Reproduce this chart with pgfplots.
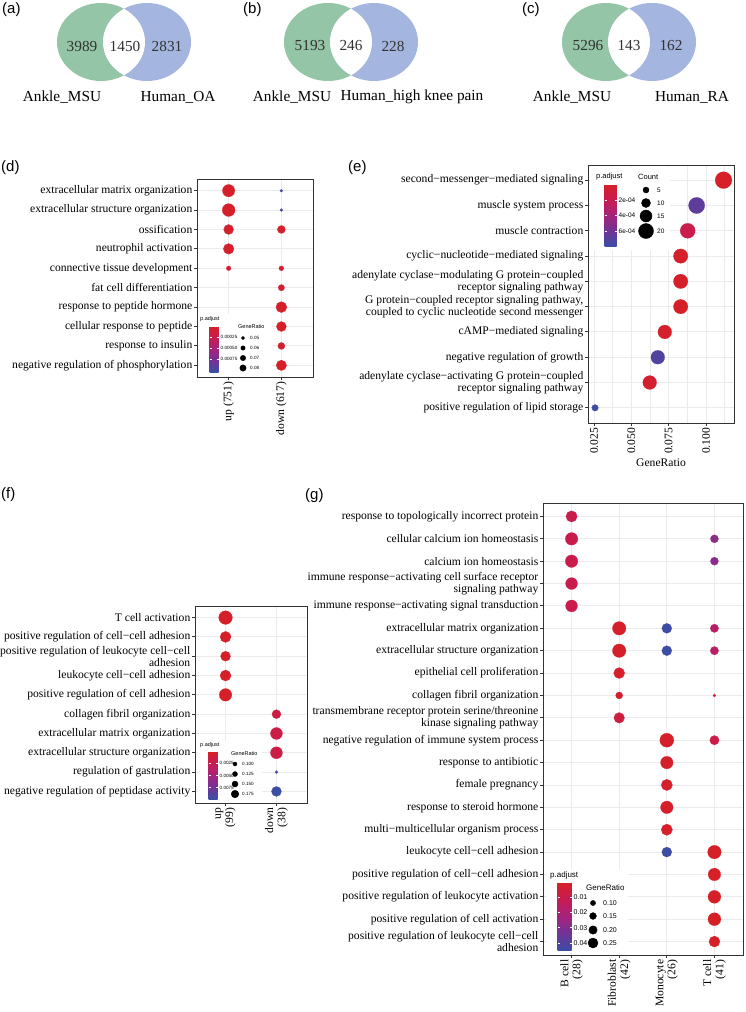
\documentclass[border=0pt]{standalone}
\usepackage{fontspec}
\setmainfont{Liberation Serif}
\setsansfont{Liberation Sans}
\usepackage{pgfplots}
\usepackage{pgfplotstable}
\pgfplotsset{compat=1.18}

\definecolor{gridc}{gray}{0.92}
\definecolor{framec}{gray}{0.2}
\definecolor{venngreen}{RGB}{148,197,166}
\definecolor{vennblue}{RGB}{164,182,223}

\newcommand\lab{\fontsize{11.6}{12.2}\selectfont}
\newcommand\venn{\fontsize{15.3}{18}\selectfont}
\newcommand\panel{\sffamily\fontsize{15}{18}\selectfont}
\newcommand\fa{\sffamily\fontsize{4.6}{5}\selectfont}
\newcommand\fb{\sffamily\fontsize{5.5}{6}\selectfont}

\pgfplotsset{
  colormap={padj}{rgb255=(214,32,40) rgb255=(200,28,80) rgb255=(165,35,125) rgb255=(115,50,150) rgb255=(58,78,165)},
  dotplot/.style={
    scale only axis, anchor=north west,
    axis line style={framec, line width=0.9pt},
    grid=major, major grid style={gridc, line width=0.9pt},
    tick align=outside, tick pos=left, major tick length=3pt,
    tick style={framec, line width=0.9pt},
    y dir=reverse, ymin=0.4,
    yticklabel style={font=\lab, align=right, inner sep=1.5pt},
    xticklabel style={font=\lab, rotate=90, anchor=east, align=right, inner sep=1.5pt},
    colormap name=padj,
  },
  dots/.style={scatter, only marks, mark=*, point meta=explicit,
    mark options={line width=0.2pt},
    scatter/use mapped color={draw=mapped color, fill=mapped color},
    scatter/@pre marker code/.append style={/tikz/mark size=\rad}},
  legbox/.style={scale only axis, anchor=north west, hide axis, y dir=reverse, clip=false},
  cbar/.style={at={(parent axis.north west)}, anchor=north west, y dir=reverse,
    axis line style={draw=none}, tick align=inside, major tick length=2pt,
    tick style={white, line width=0.5pt}, ytick pos=both, yticklabel pos=right,
    scaled y ticks=false, yticklabel style={inner sep=1pt, xshift=1pt}},
}

% panel (d): x = group, y = row from top, p = p.adjust, gr = GeneRatio
\pgfplotstableread{
x y p gr
1 1 0.00002 0.084
1 2 0.00002 0.086
1 3 0.00004 0.074
1 4 0.00004 0.077
1 5 0.00008 0.052
2 1 0.00100 0.045
2 2 0.00100 0.045
2 3 0.00003 0.066
2 5 0.00006 0.053
2 6 0.00005 0.059
2 7 0.00001 0.078
2 8 0.00001 0.074
2 9 0.00004 0.062
2 10 0.00001 0.076
}\tabd

% panel (e): x = GeneRatio, cnt = Count
\pgfplotstableread{
x y p cnt
0.1117 1 0.000005 23
0.0937 2 0.00066 22
0.0877 3 0.00017 20
0.0830 4 0.00001 19
0.0830 5 0.00001 19
0.0830 6 0.00001 19
0.0724 7 0.00002 18
0.0677 8 0.00071 18
0.0623 9 0.00003 18
0.0257 10 0.00078 6
}\tabe

% panel (f)
\pgfplotstableread{
x y p gr
1 1 0.00005 0.186
1 2 0.00005 0.160
1 3 0.00005 0.150
1 4 0.00005 0.160
1 5 0.00005 0.176
2 6 0.0017 0.140
2 7 0.0017 0.170
2 8 0.0017 0.170
2 9 0.0095 0.080
2 10 0.0097 0.150
}\tabf

% panel (g)
\pgfplotstableread{
x y p gr
1 1 0.010 0.29
1 2 0.010 0.33
4 2 0.028 0.19
1 3 0.010 0.33
4 3 0.028 0.19
1 4 0.010 0.31
1 5 0.010 0.31
2 6 0.0005 0.36
3 6 0.044 0.25
4 6 0.016 0.20
2 7 0.0005 0.36
3 7 0.044 0.25
4 7 0.016 0.20
2 8 0.001 0.28
2 9 0.002 0.16
4 9 0.002 0.03
2 10 0.0065 0.27
3 11 0.0008 0.375
4 11 0.009 0.23
3 12 0.001 0.33
3 13 0.001 0.29
3 14 0.001 0.33
3 15 0.001 0.29
3 16 0.044 0.25
4 16 0.0001 0.36
4 17 0.0001 0.33
4 18 0.0001 0.34
4 19 0.0001 0.34
4 20 0.0001 0.28
}\tabg

\begin{document}
\begin{tikzpicture}
\path[use as bounding box] (0pt,0pt) rectangle (745pt,-1012pt);

% ---------- Venn diagrams (a)-(c)
\begin{axis}[legbox, at={(0pt,0pt)}, width=745pt, height=110pt,
  xmin=0, xmax=745, ymin=0, ymax=110]
  % (a)
  \fill[venngreen] (axis cs:101,42) ellipse [x radius=44pt, y radius=39pt];
  \fill[vennblue] (axis cs:147,42) ellipse [x radius=44pt, y radius=39pt];
  \begin{scope}
    \clip (axis cs:101,42) ellipse [x radius=44pt, y radius=39pt];
    \fill[white] (axis cs:147,42) ellipse [x radius=44pt, y radius=39pt];
  \end{scope}
  \node[font=\venn, text=black!80] at (axis cs:82,46) {3989};
  \node[font=\venn, text=black!80] at (axis cs:125,46) {1450};
  \node[font=\venn, text=black!80] at (axis cs:167,46) {2831};
  \node[font=\venn] at (axis cs:62,97) {Ankle\_MSU};
  \node[font=\venn] at (axis cs:178,97) {Human\_OA};
  % (b)
  \fill[venngreen] (axis cs:328,42) ellipse [x radius=44pt, y radius=39pt];
  \fill[vennblue] (axis cs:374,42) ellipse [x radius=44pt, y radius=39pt];
  \begin{scope}
    \clip (axis cs:328,42) ellipse [x radius=44pt, y radius=39pt];
    \fill[white] (axis cs:374,42) ellipse [x radius=44pt, y radius=39pt];
  \end{scope}
  \node[font=\venn, text=black!80] at (axis cs:310,46) {5193};
  \node[font=\venn, text=black!80] at (axis cs:351,46) {246};
  \node[font=\venn, text=black!80] at (axis cs:393,46) {228};
  \node[font=\venn] at (axis cs:292,97) {Ankle\_MSU};
  \node[font=\venn] at (axis cs:412,97) {Human\_high knee pain};
  % (c)
  \fill[venngreen] (axis cs:606,42) ellipse [x radius=44pt, y radius=39pt];
  \fill[vennblue] (axis cs:652,42) ellipse [x radius=44pt, y radius=39pt];
  \begin{scope}
    \clip (axis cs:606,42) ellipse [x radius=44pt, y radius=39pt];
    \fill[white] (axis cs:652,42) ellipse [x radius=44pt, y radius=39pt];
  \end{scope}
  \node[font=\venn, text=black!80] at (axis cs:588,46) {5296};
  \node[font=\venn, text=black!80] at (axis cs:629,46) {143};
  \node[font=\venn, text=black!80] at (axis cs:671,46) {162};
  \node[font=\venn] at (axis cs:572,97) {Ankle\_MSU};
  \node[font=\venn] at (axis cs:692,97) {Human\_RA};
\end{axis}
\node[anchor=north west, font=\panel, inner sep=0] at (2pt,-2pt) {(a)};
\node[anchor=north west, font=\panel, inner sep=0] at (243pt,-2pt) {(b)};
\node[anchor=north west, font=\panel, inner sep=0] at (522pt,-2pt) {(c)};
\node[anchor=north west, font=\panel, inner sep=0] at (1pt,-160pt) {(d)};
\node[anchor=north west, font=\panel, inner sep=0] at (348pt,-160pt) {(e)};
\node[anchor=north west, font=\panel, inner sep=0] at (1pt,-487pt) {(f)};
\node[anchor=north west, font=\panel, inner sep=0] at (305pt,-488pt) {(g)};

% ---------- (d)
\begin{axis}[dotplot, at={(197pt,-179pt)}, width=116pt, height=198pt,
  xmin=0.4, xmax=2.6, ymax=10.6,
  xtick={1,2}, xticklabels={up (751),down (617)},
  ytick={1,...,10},
  yticklabels={{extracellular matrix organization},{extracellular structure organization},{ossification},{neutrophil activation},{connective tissue development},{fat cell differentiation},{response to peptide hormone},{cellular response to peptide},{response to insulin},{negative regulation of phosphorylation}},
  point meta min=0, point meta max=0.00104]
\addplot[dots, visualization depends on={1.5+120*(\thisrow{gr}-0.045) \as \rad}]
  table[x=x, y=y, meta=p] {\tabd};
\end{axis}
\begin{axis}[legbox, at={(199pt,-314pt)}, width=73pt, height=62pt,
  xmin=0, xmax=73, ymin=0, ymax=62,
  colormap name=padj, point meta min=0, point meta max=0.00104,
  colorbar, colorbar style={cbar, xshift=2pt, yshift=-12pt, width=9pt, height=46pt,
    ytick={0.00025,0.0005,0.00075}, yticklabels={0.00025,0.00050,0.00075},
    yticklabel style={font=\fa}}]
  \fill[white] (axis cs:0,0) rectangle (axis cs:73,62);
  \node[anchor=west, inner sep=0, font=\fb] at (axis cs:1,5) {p.adjust};
  \node[anchor=west, inner sep=0, font=\fb] at (axis cs:39,13) {GeneRatio};
  \addplot[only marks, mark=*, black, mark size=1.7pt] coordinates {(44,24)};
  \addplot[only marks, mark=*, black, mark size=2.2pt] coordinates {(44,34)};
  \addplot[only marks, mark=*, black, mark size=2.7pt] coordinates {(44,44)};
  \addplot[only marks, mark=*, black, mark size=3.2pt] coordinates {(44,54)};
  \node[anchor=west, inner sep=0, font=\fa] at (axis cs:51,24) {0.05};
  \node[anchor=west, inner sep=0, font=\fa] at (axis cs:51,34) {0.06};
  \node[anchor=west, inner sep=0, font=\fa] at (axis cs:51,44) {0.07};
  \node[anchor=west, inner sep=0, font=\fa] at (axis cs:51,54) {0.08};
\end{axis}

% ---------- (e)
\begin{axis}[dotplot, at={(588pt,-165pt)}, width=146pt, height=258pt,
  xmin=0.021, xmax=0.1187, ymax=10.6, scaled x ticks=false,
  grid=both, minor grid style={gridc, line width=0.5pt}, minor tick length=0pt,
  xtick={0.025,0.05,0.075,0.1}, xticklabels={0.025,0.050,0.075,0.100},
  minor xtick={0.0375,0.0625,0.0875,0.1125},
  xlabel={GeneRatio}, xlabel style={font=\lab},
  ytick={1,...,10},
  yticklabels={{second−messenger−mediated signaling},{muscle system process},{muscle contraction},{cyclic−nucleotide−mediated signaling},{adenylate cyclase−modulating G protein−coupled\\receptor signaling pathway},{G protein−coupled receptor signaling pathway,\\coupled to cyclic nucleotide second messenger},{cAMP−mediated signaling},{negative regulation of growth},{adenylate cyclase−activating G protein−coupled\\receptor signaling pathway},{positive regulation of lipid storage}},
  point meta min=0, point meta max=0.000785]
\addplot[dots, visualization depends on={1.5+0.3*\thisrow{cnt} \as \rad}]
  table[x=x, y=y, meta=p] {\tabe};
\end{axis}
\begin{axis}[legbox, at={(590pt,-167pt)}, width=80pt, height=83pt,
  xmin=0, xmax=80, ymin=0, ymax=83,
  colormap name=padj, point meta min=0, point meta max=0.000785,
  colorbar, colorbar style={cbar, xshift=6pt, yshift=-17pt, width=12pt, height=62pt,
    ytick={0.0002,0.0004,0.0006}, yticklabels={2e-04,4e-04,6e-04},
    yticklabel style={font=\sffamily\fontsize{6.5}{7}\selectfont}}]
  \fill[white] (axis cs:0,0) rectangle (axis cs:80,83);
  \node[anchor=west, inner sep=0, font=\sffamily\fontsize{7.5}{8}\selectfont] at (axis cs:6,10) {p.adjust};
  \node[anchor=west, inner sep=0, font=\sffamily\fontsize{7.5}{8}\selectfont] at (axis cs:48,10) {Count};
  \addplot[only marks, mark=*, black, mark size=3pt] coordinates {(56,23)};
  \addplot[only marks, mark=*, black, mark size=4.5pt] coordinates {(56,36)};
  \addplot[only marks, mark=*, black, mark size=6pt] coordinates {(56,49)};
  \addplot[only marks, mark=*, black, mark size=7.5pt] coordinates {(56,64)};
  \node[anchor=west, inner sep=0, font=\sffamily\fontsize{6.5}{7}\selectfont] at (axis cs:67,23) {5};
  \node[anchor=west, inner sep=0, font=\sffamily\fontsize{6.5}{7}\selectfont] at (axis cs:67,36) {10};
  \node[anchor=west, inner sep=0, font=\sffamily\fontsize{6.5}{7}\selectfont] at (axis cs:67,49) {15};
  \node[anchor=west, inner sep=0, font=\sffamily\fontsize{6.5}{7}\selectfont] at (axis cs:67,64) {20};
\end{axis}

% ---------- (f)
\begin{axis}[dotplot, at={(195pt,-606pt)}, width=112pt, height=197pt,
  xmin=0.4, xmax=2.6, ymax=10.6,
  xtick={1,2}, xticklabels={{up\\(99)},{down\\(38)}},
  ytick={1,...,10},
  yticklabels={{T cell activation},{positive regulation of cell−cell adhesion},{positive regulation of leukocyte cell−cell\\adhesion},{leukocyte cell−cell adhesion},{positive regulation of cell adhesion},{collagen fibril organization},{extracellular matrix organization},{extracellular structure organization},{regulation of gastrulation},{negative regulation of peptidase activity}},
  point meta min=0, point meta max=0.0098]
\addplot[dots, visualization depends on={1.5+50*(\thisrow{gr}-0.08) \as \rad}]
  table[x=x, y=y, meta=p] {\tabf};
\end{axis}
\begin{axis}[legbox, at={(198pt,-741pt)}, width=64pt, height=61pt,
  xmin=0, xmax=64, ymin=0, ymax=61,
  colormap name=padj, point meta min=0, point meta max=0.0098,
  colorbar, colorbar style={cbar, xshift=2pt, yshift=-10pt, width=9pt, height=48pt,
    ytick={0.0025,0.005,0.0075}, yticklabels={0.0025,0.0050,0.0075},
    yticklabel style={font=\fa}}]
  \fill[white] (axis cs:0,0) rectangle (axis cs:64,61);
  \node[anchor=west, inner sep=0, font=\fb] at (axis cs:2,4) {p.adjust};
  \node[anchor=west, inner sep=0, font=\fb] at (axis cs:33,13) {GeneRatio};
  \addplot[only marks, mark=*, black, mark size=2pt] coordinates {(37,23)};
  \addplot[only marks, mark=*, black, mark size=2.5pt] coordinates {(37,33)};
  \addplot[only marks, mark=*, black, mark size=3pt] coordinates {(37,43)};
  \addplot[only marks, mark=*, black, mark size=3.8pt] coordinates {(37,53)};
  \node[anchor=west, inner sep=0, font=\fa] at (axis cs:44,23) {0.100};
  \node[anchor=west, inner sep=0, font=\fa] at (axis cs:44,33) {0.125};
  \node[anchor=west, inner sep=0, font=\fa] at (axis cs:44,43) {0.150};
  \node[anchor=west, inner sep=0, font=\fa] at (axis cs:44,53) {0.175};
\end{axis}

% ---------- (g)
\begin{axis}[dotplot, at={(543pt,-503pt)}, width=200pt, height=452pt,
  xmin=0.4, xmax=4.6, ymax=20.6,
  xtick={1,2,3,4}, xticklabels={{B cell\\(28)},{Fibroblast\\(42)},{Monocyte\\(26)},{T cell\\(41)}},
  ytick={1,...,20},
  yticklabels={{response to topologically incorrect protein},{cellular calcium ion homeostasis},{calcium ion homeostasis},{immune response−activating cell surface receptor\\signaling pathway},{immune response−activating signal transduction},{extracellular matrix organization},{extracellular structure organization},{epithelial cell proliferation},{collagen fibril organization},{transmembrane receptor protein serine/threonine\\kinase signaling pathway},{negative regulation of immune system process},{response to antibiotic},{female pregnancy},{response to steroid hormone},{multi−multicellular organism process},{leukocyte cell−cell adhesion},{positive regulation of cell−cell adhesion},{positive regulation of leukocyte activation},{positive regulation of cell activation},{positive regulation of leukocyte cell−cell\\adhesion}},
  point meta min=0, point meta max=0.0447]
\addplot[dots, visualization depends on={1+16*\thisrow{gr} \as \rad}]
  table[x=x, y=y, meta=p] {\tabg};
\end{axis}
\begin{axis}[legbox, at={(547pt,-869pt)}, width=81pt, height=84pt,
  xmin=0, xmax=81, ymin=0, ymax=84,
  colormap name=padj, point meta min=0, point meta max=0.0447,
  colorbar, colorbar style={cbar, xshift=2pt, yshift=-13pt, width=14pt, height=68pt,
    ytick={0.01,0.02,0.03,0.04}, yticklabels={0.01,0.02,0.03,0.04},
    yticklabel style={font=\sffamily\fontsize{7}{8}\selectfont}}]
  \fill[white] (axis cs:0,0) rectangle (axis cs:81,84);
  \node[anchor=west, inner sep=0, font=\sffamily\fontsize{8}{9}\selectfont] at (axis cs:3,6) {p.adjust};
  \node[anchor=west, inner sep=0, font=\sffamily\fontsize{8}{9}\selectfont] at (axis cs:39,19) {GeneRatio};
  \addplot[only marks, mark=*, black, mark size=2.6pt] coordinates {(46,34)};
  \addplot[only marks, mark=*, black, mark size=3.4pt] coordinates {(46,47)};
  \addplot[only marks, mark=*, black, mark size=4.2pt] coordinates {(46,61)};
  \addplot[only marks, mark=*, black, mark size=5pt] coordinates {(46,74)};
  \node[anchor=west, inner sep=0, font=\sffamily\fontsize{7}{8}\selectfont] at (axis cs:56,34) {0.10};
  \node[anchor=west, inner sep=0, font=\sffamily\fontsize{7}{8}\selectfont] at (axis cs:56,47) {0.15};
  \node[anchor=west, inner sep=0, font=\sffamily\fontsize{7}{8}\selectfont] at (axis cs:56,61) {0.20};
  \node[anchor=west, inner sep=0, font=\sffamily\fontsize{7}{8}\selectfont] at (axis cs:56,74) {0.25};
\end{axis}
\end{tikzpicture}
\end{document}
